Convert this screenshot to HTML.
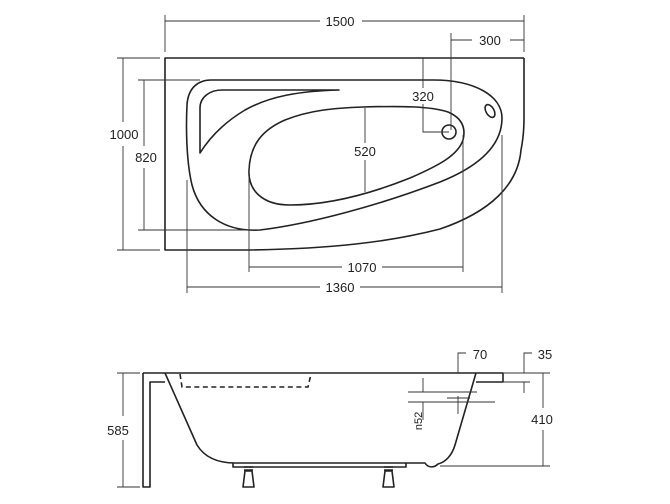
<!DOCTYPE html>
<html><head><style>
html,body{margin:0;padding:0;background:#fff;}
svg{display:block;}
text{font-family:"Liberation Sans",sans-serif;font-size:13px;fill:#222;}
</style></head><body>
<svg width="670" height="504" viewBox="0 0 670 504" xmlns="http://www.w3.org/2000/svg">
<g fill="none" stroke="#222" stroke-width="1.6" stroke-linejoin="round">
<!-- top view outer -->
<path d="M524,58 L165,58 L165,250 L247,250 C330,249 390,242 440,229 C490,212 518,185 521,150 C524,135 524,125 524,118 L524,58"/>
<!-- rim -->
<path d="M211,80 L433,80 C475,80 502,96 502,118 C502,148 475,168 440,182 C380,205 310,224 260,230 C225,232 200,215 192,185 C186,160 186,125 187,105 C188,88 198,80 211,80 Z"/>
<!-- headrest -->
<path d="M200,153 L200,108 C200,97 210,90 222,90 L339,90 C300,91 270,96 245,110 C225,122 210,137 200,153 Z"/>
<!-- basin -->
<path d="M363,107 C400,106 430,106 448,112 C462,118 466,128 463,140 C458,155 440,165 410,178 C370,194 330,205 290,205 C262,205 248,190 249,170 C250,145 262,130 285,120 C310,110 335,108 363,107 Z"/>
<circle cx="449" cy="132" r="7"/>
<ellipse cx="490" cy="111" rx="4" ry="7" transform="rotate(-30 490 111)"/>
</g>
<g fill="none" stroke="#333" stroke-width="0.9">
<!-- 1500 -->
<path d="M165,15 V52 M524,15 V52 M165,21 H320 M362,21 H524"/>
<!-- 300 -->
<path d="M451,33 V130 M451,40 H472 M510,40 H524"/>
<!-- 1000 -->
<path d="M117,58 H160 M117,250 H160 M123,58 V122 M123,146 V250"/>
<!-- 820 -->
<path d="M138,80 H200 M138,230 H255 M144,80 V146 M144,168 V230"/>
<!-- 320 -->
<path d="M423,58 V88 M423,104 V132 H449"/>
<!-- 520 -->
<path d="M365,108 V143 M365,160 V192"/>
<!-- 1070 -->
<path d="M249,165 V272 M463,135 V272 M249,267 H342 M382,267 H463"/>
<!-- 1360 -->
<path d="M187,180 V293 M502,135 V293 M187,287 H320 M360,287 H502"/>
</g>
<text x="340" y="26" text-anchor="middle">1500</text>
<text x="490" y="45" text-anchor="middle">300</text>
<text x="124" y="139" text-anchor="middle">1000</text>
<text x="146" y="162" text-anchor="middle">820</text>
<text x="423" y="101" text-anchor="middle">320</text>
<text x="365" y="156" text-anchor="middle">520</text>
<text x="362" y="272" text-anchor="middle">1070</text>
<text x="340" y="292" text-anchor="middle">1360</text>

<!-- side view -->
<g fill="none" stroke="#222" stroke-width="1.6" stroke-linejoin="round">
<path d="M143,373 H503 V382 H476"/>
<path d="M143,373 V487 H150 V382 H165"/>
<path d="M165,373 L197,445 C205,458 218,463 235,463 L425,463 C428,468 434,468 438,464 C446,462 452,455 455,445 L476,373"/>
<path d="M233,463 V467 H406 V463"/>
<path d="M244,467 H253 M244,470 H253 M243,487 L245,471 H252 L254,487 Z"/>
<path d="M384,467 H393 M384,470 H393 M383,487 L385,471 H392 L394,487 Z"/>
</g>
<path d="M180,374 L182,387 H308 L311,374" fill="none" stroke="#222" stroke-width="1.6" stroke-dasharray="5,3.5"/>
<g fill="none" stroke="#333" stroke-width="0.9">
<path d="M117,373 H140 M117,487 H140 M123,373 V416 M123,440 V487"/>
<path d="M503,373 H550 M440,466 H550 M543,373 V408 M543,430 V466"/>
<path d="M458,373 V353 H466"/>
<path d="M524,373 V353 H532 M503,382 H530 M524,382 V393"/>
<path d="M423,378 V392 M408,392 H477 M408,402 H495 M423,402 V420 M458,396 V414 M447,398 H470"/>
</g>
<text x="480" y="359" text-anchor="middle">70</text>
<text x="545" y="359" text-anchor="middle">35</text>
<text x="118" y="435" text-anchor="middle">585</text>
<text x="542" y="424" text-anchor="middle">410</text>
<text transform="translate(422,421) rotate(-90)" text-anchor="middle" style="font-size:11px">n52</text>
</svg>
</body></html>
